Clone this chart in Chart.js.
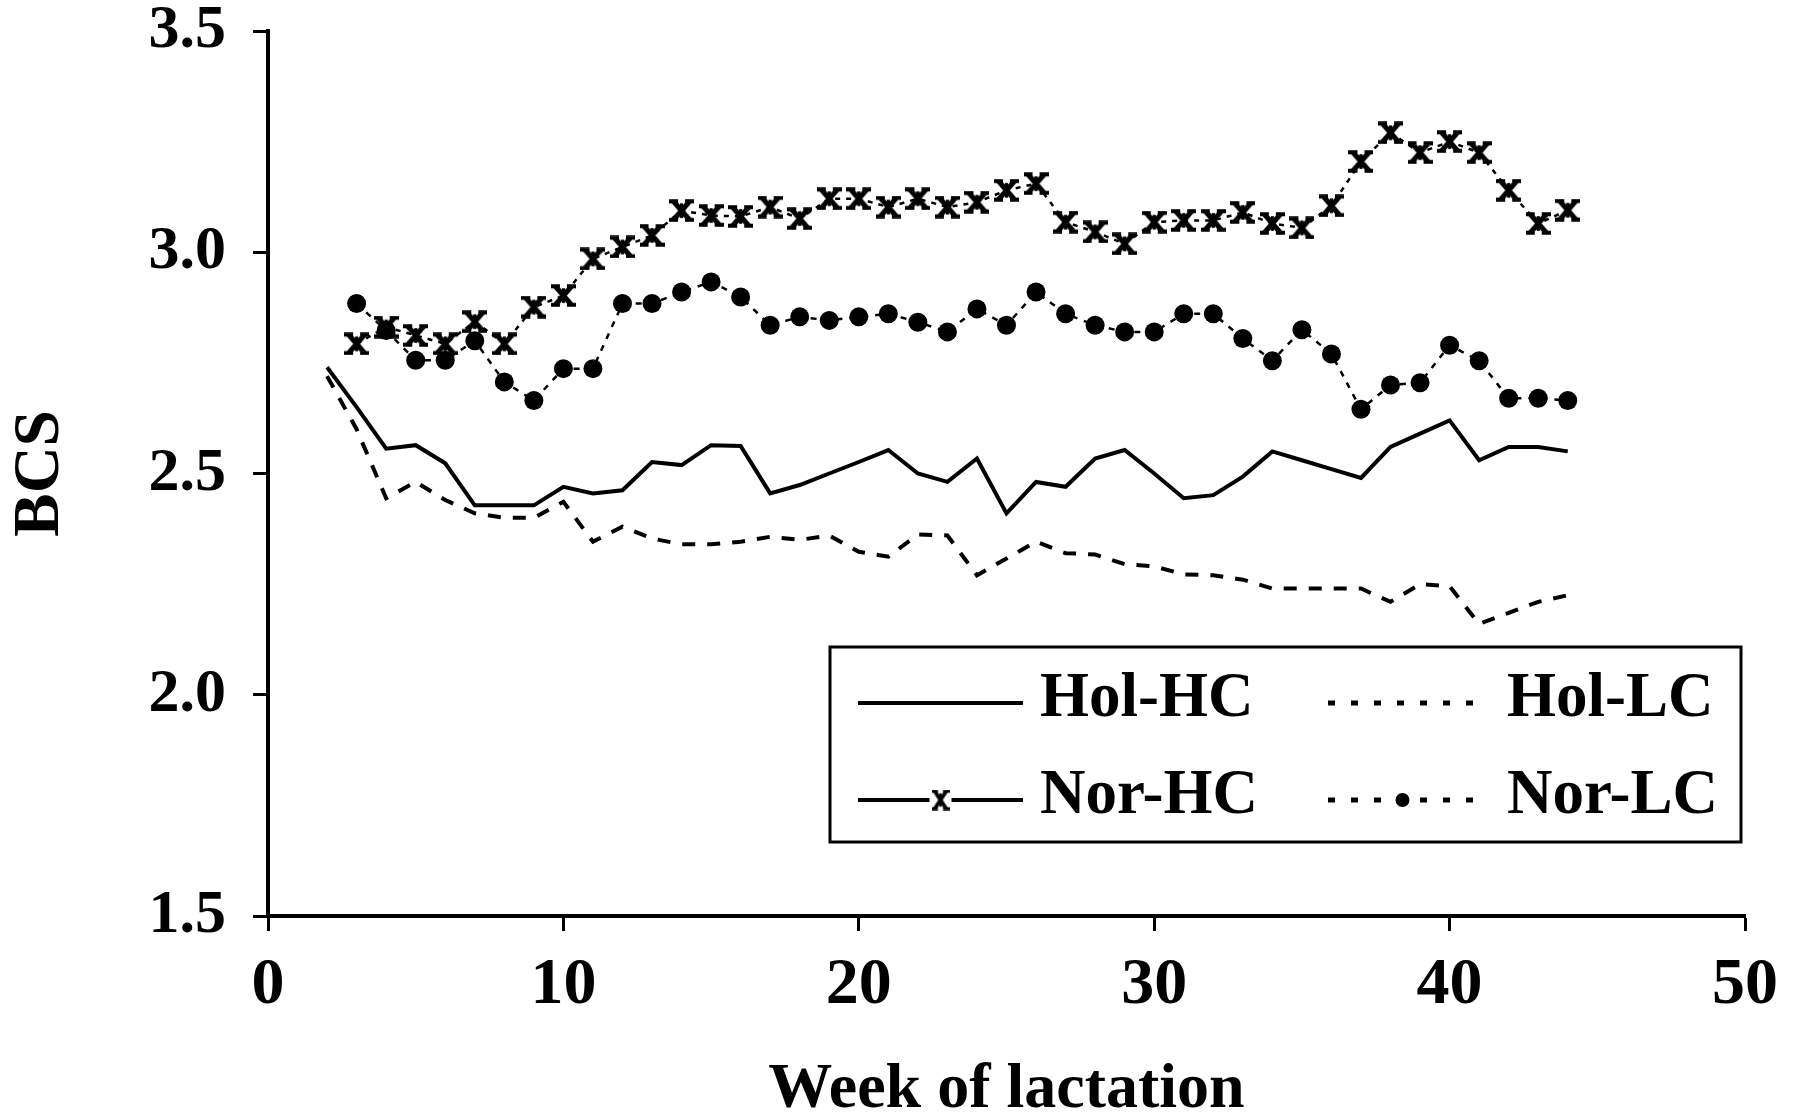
<!DOCTYPE html>
<html>
<head>
<meta charset="utf-8">
<title>BCS by week of lactation</title>
<script src="https://cdn.jsdelivr.net/npm/chart.js@4.4.1/dist/chart.umd.min.js"></script>
<style>
  html, body { margin: 0; padding: 0; background: #fff; }
  #wrap { width: 1796px; height: 1117px; position: relative; }
</style>
</head>
<body>
<div id="wrap"><canvas id="bcs" width="1796" height="1117"></canvas></div>
<script>
// Week of lactation
const weeks = [2, 3, 4, 5, 6, 7, 8, 9, 10, 11, 12, 13, 14, 15, 16, 17, 18, 19, 20, 21, 22, 23,
  24, 25, 26, 27, 28, 29, 30, 31, 32, 33, 34, 35, 36, 37, 38, 39, 40, 41, 42, 43, 44];

// Body condition score per group
const holHC = [2.74, 2.65, 2.556, 2.564, 2.523, 2.428, 2.428, 2.428, 2.47, 2.455, 2.462, 2.526,
  2.519, 2.564, 2.562, 2.455, 2.474, 2.50, 2.526, 2.553, 2.50, 2.481, 2.534, 2.41, 2.481, 2.47,
  2.534, 2.553, 2.50, 2.444, 2.451, 2.493, 2.55, 2.53, 2.51, 2.49, 2.56, 2.59, 2.62, 2.53, 2.56,
  2.56, 2.55];
const holLC = [2.72, 2.60, 2.444, 2.481, 2.44, 2.41, 2.40, 2.40, 2.436, 2.346, 2.38, 2.353,
  2.34, 2.34, 2.346, 2.357, 2.35, 2.36, 2.323, 2.312, 2.362, 2.36, 2.27, 2.308, 2.346, 2.32,
  2.317, 2.295, 2.29, 2.272, 2.27, 2.26, 2.24, 2.24, 2.24, 2.24, 2.21, 2.25, 2.245, 2.16, 2.185,
  2.21, 2.225];
const norHC = [null, 2.793, 2.831, 2.812, 2.793, 2.843, 2.793, 2.876, 2.902, 2.985, 3.012, 3.038,
  3.094, 3.083, 3.081, 3.102, 3.076, 3.121, 3.121, 3.102, 3.121, 3.102, 3.113, 3.14, 3.155, 3.068,
  3.046, 3.019, 3.068, 3.072, 3.072, 3.09, 3.065, 3.055, 3.105, 3.205, 3.27, 3.225, 3.25, 3.225,
  3.14, 3.065, 3.095];
const norLC = [null, 2.884, 2.823, 2.756, 2.756, 2.80, 2.707, 2.665, 2.737, 2.737, 2.884, 2.884,
  2.91, 2.933, 2.899, 2.835, 2.854, 2.846, 2.854, 2.861, 2.842, 2.82, 2.872, 2.835, 2.91, 2.861,
  2.835, 2.82, 2.82, 2.861, 2.861, 2.805, 2.755, 2.825, 2.77, 2.645, 2.70, 2.705, 2.79, 2.755,
  2.67, 2.67, 2.665];

const seriesNames = ['Hol-HC', 'Hol-LC', 'Nor-HC', 'Nor-LC'];

// Axis ranges and tick steps
const xRange = [0, 50];
const xStep = 10;
const yRange = [1.5, 3.5];
const yStep = 0.5;

const SERIF = '"Liberation Serif", "Times New Roman", serif';
const INK = '#000';

function pairs(values) {
  return weeks.map((w, i) => ({ x: w, y: values[i] }));
}

// "Zhe"-shaped asterisk marker: a heavy X, a thin centre stem and short bars at the tips
function makeStarMarker(w, h, lw) {
  const c = document.createElement('canvas');
  c.width = w; c.height = h;
  const g = c.getContext('2d');
  g.strokeStyle = INK;
  g.lineCap = 'butt';
  const t = lw * 0.45, b = h - lw * 0.45;
  const m = w / 2;
  g.lineWidth = lw;
  g.beginPath();
  g.moveTo(w * 0.18, t); g.lineTo(w * 0.82, b);
  g.moveTo(w * 0.82, t); g.lineTo(w * 0.18, b);
  g.stroke();
  g.lineWidth = lw * 0.6;
  g.beginPath();
  g.moveTo(m, h * 0.18); g.lineTo(m, h * 0.82);
  g.stroke();
  g.lineWidth = lw * 0.8;
  g.beginPath();
  g.moveTo(0, t); g.lineTo(w * 0.36, t);
  g.moveTo(w * 0.64, t); g.lineTo(w, t);
  g.moveTo(0, b); g.lineTo(w * 0.36, b);
  g.moveTo(w * 0.64, b); g.lineTo(w, b);
  g.stroke();
  return c;
}
const starMarker = makeStarMarker(25, 23, 5);
const legendStar = makeStarMarker(18, 21, 3.8);

const datasets = [
  {
    label: seriesNames[0], data: pairs(holHC),
    borderColor: INK, borderWidth: 4, pointRadius: 0, tension: 0
  },
  {
    label: seriesNames[1], data: pairs(holLC),
    borderColor: INK, borderWidth: 4, borderDash: [13, 12], pointRadius: 0, tension: 0
  },
  {
    label: seriesNames[2], data: pairs(norHC),
    borderColor: INK, borderWidth: 2.5, borderDash: [5, 6], tension: 0,
    pointStyle: starMarker, pointRadius: 12, pointBackgroundColor: INK, pointBorderColor: INK
  },
  {
    label: seriesNames[3], data: pairs(norLC),
    borderColor: INK, borderWidth: 2.5, borderDash: [6, 7], tension: 0,
    pointStyle: 'circle', pointRadius: 9.5, pointBorderWidth: 0,
    pointBackgroundColor: INK, pointBorderColor: INK
  }
];

// Boxed legend drawn inside the plot, two columns by two rows
const boxedLegend = {
  id: 'boxedLegend',
  afterDraw(chart) {
    const { ctx, chartArea: a } = chart;
    const bx = a.left + 562, by = a.top + 616, bw = 911, bh = 195;
    ctx.save();
    ctx.fillStyle = '#fff';
    ctx.fillRect(bx, by, bw, bh);
    ctx.strokeStyle = INK;
    ctx.lineWidth = 3;
    ctx.strokeRect(bx, by, bw, bh);

    const rows = [56, 153];
    const cols = [{ l0: 28, l1: 193, t: 210 }, { l0: 498, l1: 647, t: 677 }];
    const items = [
      { ds: 0, col: 0, row: 0, kind: 'solid' },
      { ds: 1, col: 1, row: 0, kind: 'dots' },
      { ds: 2, col: 0, row: 1, kind: 'solid', marker: 'star' },
      { ds: 3, col: 1, row: 1, kind: 'dots', marker: 'dot' }
    ];
    ctx.font = 'bold 63px ' + SERIF;
    ctx.textBaseline = 'middle';
    ctx.textAlign = 'left';
    items.forEach(it => {
      const c = cols[it.col];
      const y = by + rows[it.row];
      const x0 = bx + c.l0, x1 = bx + c.l1;
      ctx.beginPath();
      if (it.kind === 'solid') {
        ctx.setLineDash([]);
        ctx.lineWidth = 4;
      } else {
        ctx.setLineDash([7, 16]);
        ctx.lineWidth = 5;
      }
      ctx.strokeStyle = INK;
      ctx.moveTo(x0, y);
      ctx.lineTo(x1, y);
      ctx.stroke();
      ctx.setLineDash([]);
      const cx = (x0 + x1) / 2;
      if (it.marker === 'star') {
        ctx.fillStyle = '#fff';
        ctx.fillRect(cx - 11, y - 12, 22, 24);
        ctx.drawImage(legendStar, cx - legendStar.width / 2, y - legendStar.height / 2);
      } else if (it.marker === 'dot') {
        ctx.fillStyle = INK;
        ctx.beginPath();
        ctx.arc(cx, y, 7, 0, Math.PI * 2);
        ctx.fill();
      }
      ctx.fillStyle = INK;
      ctx.fillText(chart.data.datasets[it.ds].label, bx + c.t, y - 3);
    });
    ctx.restore();
  }
};

new Chart(document.getElementById('bcs'), {
  type: 'line',
  data: { datasets },
  options: {
    responsive: false,
    animation: false,
    devicePixelRatio: 1,
    layout: { padding: { left: 0, top: 31, right: 51, bottom: 0 } },
    plugins: {
      legend: { display: false },
      tooltip: { enabled: false }
    },
    scales: {
      x: {
        type: 'linear',
        min: xRange[0], max: xRange[1],
        border: { display: true, color: INK, width: 4 },
        grid: { display: true, drawOnChartArea: false, drawTicks: true, tickLength: 15, tickWidth: 3, tickColor: INK },
        ticks: {
          stepSize: xStep, color: INK, padding: 22, maxRotation: 0,
          font: { family: SERIF, size: 66, weight: 'bold', lineHeight: 1.0 }
        },
        title: {
          display: true, text: 'Week of lactation', color: INK,
          font: { family: SERIF, size: 64, weight: 'bold', lineHeight: 0.84 },
          padding: { top: 0, bottom: 0 }
        },
        afterFit(scale) {
          scale.height = 201;
          scale.paddingLeft = 0;
          scale.paddingRight = 0;
        }
      },
      y: {
        type: 'linear',
        min: yRange[0], max: yRange[1],
        border: { display: true, color: INK, width: 4 },
        grid: { display: true, drawOnChartArea: false, drawTicks: true, tickLength: 15, tickWidth: 3, tickColor: INK },
        ticks: {
          stepSize: yStep, color: INK, padding: 27,
          font: { family: SERIF, size: 62, weight: 'bold', lineHeight: 1.0 },
          callback: v => Number(v).toFixed(1)
        },
        title: {
          display: true, text: 'BCS', color: INK,
          font: { family: SERIF, size: 65, weight: 'bold', lineHeight: 1.2 },
          padding: { top: 2, bottom: 0 }
        },
        afterFit(scale) {
          scale.width = 268;
          scale.paddingTop = 0;
          scale.paddingBottom = 0;
        }
      }
    }
  },
  plugins: [boxedLegend]
});
</script>
</body>
</html>
